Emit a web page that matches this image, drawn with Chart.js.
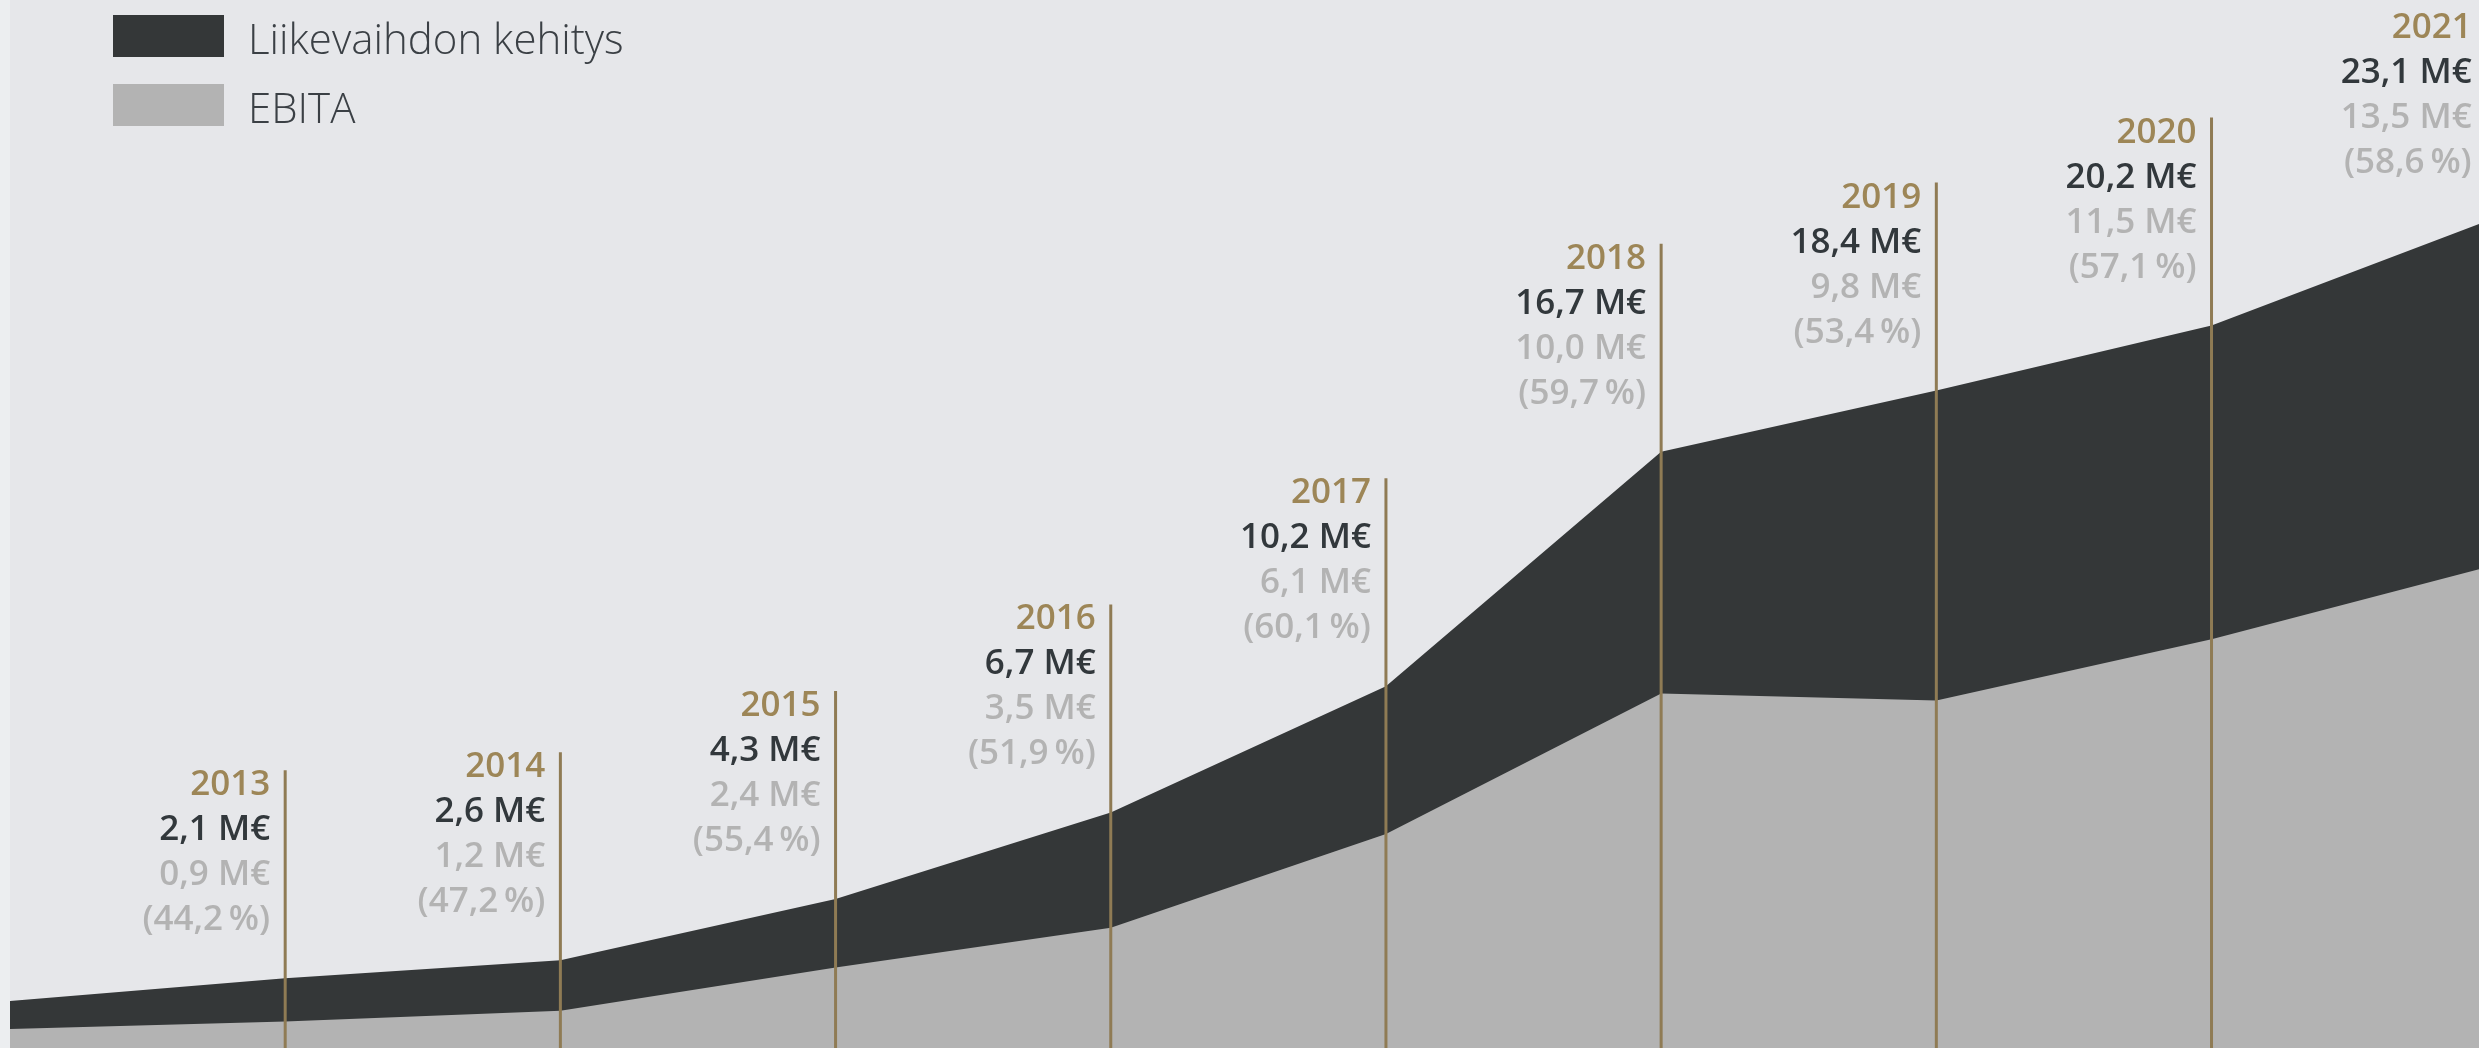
<!DOCTYPE html>
<html>
<head>
<meta charset="utf-8">
<script src="https://cdn.jsdelivr.net/npm/chart.js@4.4.1/dist/chart.umd.min.js"></script>
<style>
  html, body { margin: 0; padding: 0; background: #eceef0; overflow: hidden; }
  #wrap { width: 2479px; height: 1048px; position: relative; }
  canvas { display: block; }
</style>
</head>
<body>
<div id="wrap"><canvas id="c" width="2479" height="1048"></canvas></div>
<script>
// ---- data ----
const years   = [2012, 2013, 2014, 2015, 2016, 2017, 2018, 2019, 2020, 2021];
const revenue = [1.47, 2.1, 2.6, 4.3, 6.7, 10.2, 16.7, 18.4, 20.2, 23.1];
const ebita   = [0.69, 0.9, 1.2, 2.4, 3.5, 6.1, 10.0, 9.8, 11.5, 13.5];
const margin  = [null, 44.2, 47.2, 55.4, 51.9, 60.1, 59.7, 53.4, 57.1, 58.6];
const labeledYears = [2013, 2014, 2015, 2016, 2017, 2018, 2019, 2020, 2021];
const seriesNames = ['Liikevaihdon kehitys', 'EBITA'];

const COLORS = {
  bg: '#e6e7ea',
  dark: '#343738',
  gray: '#b3b3b3',
  gold: '#9d8657',
  goldLine: '#8f7b54',
  valText: '#32383c',
  ebText: '#b3b3b3',
  legendText: '#3b4045'
};

const fmt = v => v.toFixed(1).replace('.', ',');

const bgPlugin = {
  id: 'bg',
  beforeDraw(chart) {
    const { ctx, chartArea } = chart;
    ctx.save();
    ctx.fillStyle = COLORS.bg;
    ctx.fillRect(chartArea.left, 0, chart.width - chartArea.left, chart.height);
    ctx.restore();
  }
};

const annotPlugin = {
  id: 'annot',
  afterDatasetsDraw(chart) {
    const { ctx, chartArea, scales } = chart;
    const xs = scales.x, ys = scales.y;
    ctx.save();
    years.forEach((yr, i) => {
      if (!labeledYears.includes(yr)) return;
      const x = xs.getPixelForValue(yr);
      const top = ys.getPixelForValue(revenue[i]) - 208;
      // vertical line
      ctx.strokeStyle = COLORS.goldLine;
      ctx.lineWidth = 3;
      ctx.beginPath();
      ctx.moveTo(x, top);
      ctx.lineTo(x, chartArea.bottom);
      ctx.stroke();
      // texts
      const tx = x - 15;
      ctx.textAlign = 'right';
      ctx.textBaseline = 'alphabetic';
      ctx.font = '600 35px "Open Sans"';
      ctx.fillStyle = COLORS.gold;
      ctx.fillText(String(yr), tx, top + 25);
      ctx.fillStyle = COLORS.valText;
      ctx.fillText(fmt(revenue[i]) + ' M€', tx, top + 70);
      ctx.fillStyle = COLORS.ebText;
      ctx.fillText(fmt(ebita[i]) + ' M€', tx, top + 115);
      ctx.fillText('(' + fmt(margin[i]) + '\u2009%)', tx, top + 160);
    });
    ctx.restore();
  },
  afterDraw(chart) {
    const { ctx } = chart;
    ctx.save();
    const ds = chart.data.datasets.slice().sort((a, b) => a.legendIndex - b.legendIndex);
    ds.forEach((d, k) => {
      const by = 15 + k * 69;
      ctx.fillStyle = d.backgroundColor;
      ctx.fillRect(113, by, 111, 42);
      ctx.fillStyle = COLORS.legendText;
      ctx.font = '300 42px "Open Sans"';
      ctx.textAlign = 'left';
      ctx.textBaseline = 'alphabetic';
      ctx.fillText(d.label, 248, by + 39);
    });
    ctx.restore();
  }
};

const toPts = arr => years.map((y, i) => ({ x: y, y: arr[i] }));

new Chart(document.getElementById('c'), {
  type: 'line',
  data: {
    datasets: [
      {
        label: seriesNames[0],
        data: toPts(revenue),
        backgroundColor: COLORS.dark,
        borderColor: COLORS.dark,
        borderWidth: 0,
        pointRadius: 0,
        fill: 'origin',
        tension: 0,
        order: 1,
        legendIndex: 0
      },
      {
        label: seriesNames[1],
        data: toPts(ebita),
        backgroundColor: COLORS.gray,
        borderColor: COLORS.gray,
        borderWidth: 0,
        pointRadius: 0,
        fill: 'origin',
        tension: 0,
        order: 0,
        legendIndex: 1
      }
    ]
  },
  options: {
    responsive: false,
    animation: false,
    devicePixelRatio: 1,
    layout: { padding: { left: 10, right: 0, top: 0, bottom: 0 } },
    plugins: { legend: { display: false }, tooltip: { enabled: false } },
    scales: {
      x: { type: 'linear', display: false, min: 2012, max: 2020.972 },
      y: { type: 'linear', display: false, min: 0.166, max: 29.23 }
    }
  },
  plugins: [bgPlugin, annotPlugin]
});
</script>
</body>
</html>
